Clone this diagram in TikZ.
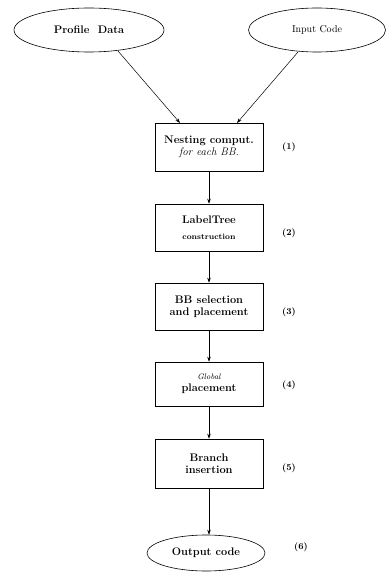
\documentclass[tikz,border=0pt]{standalone}
\usetikzlibrary{shapes.geometric,arrows.meta}
\begin{document}
\begin{tikzpicture}[x=1pt,y=-1pt,
  stage/.style={draw,line width=0.6pt,minimum width=108pt,minimum height=48pt,align=center,inner sep=2pt,font=\bfseries\fontsize{11}{13}\selectfont},
  oval/.style={draw,ellipse,line width=0.6pt,inner sep=0pt},
  flow/.style={-{Stealth[length=5pt,width=3.5pt]},line width=0.5pt},
  num/.style={font=\bfseries\small}]
\useasboundingbox (0,0) rectangle (388,572);
% input ovals
\node[oval,minimum width=150pt,minimum height=44pt,font=\bfseries\fontsize{11}{13}\selectfont] (prof) at (89,30) {Profile\ \ Data};
\node[oval,minimum width=137pt,minimum height=44pt,font=\normalsize] (inp) at (317,30) {Input Code};
% processing stages
\node[stage] (s1) at (209,147) {Nesting comput.\\[-1pt]{\normalfont\itshape for each BB.}};
\node[stage,minimum height=47pt] (s2) at (209,227.5) {LabelTree\\[3pt]{\footnotesize construction}};
\node[stage,minimum height=47pt] (s3) at (209,306.5) {BB selection\\[-1pt]and placement};
\node[stage,minimum height=44pt] (s4) at (209,384) {{\normalfont\itshape\footnotesize Global}\\[-1pt]placement};
\node[stage,minimum height=49pt] (s5) at (209,463.5) {Branch\\[-1pt]insertion};
% output oval
\node[oval,minimum width=118pt,minimum height=36pt,font=\bfseries\fontsize{11}{13}\selectfont] (out) at (206,553) {Output code};
% step numbers
\node[num] (n1) at (289,147) {(1)};
\node[num] (n2) at (289,233) {(2)};
\node[num] (n3) at (289,312) {(3)};
\node[num] (n4) at (289,385) {(4)};
\node[num] (n5) at (289,468) {(5)};
\node[num] (n6) at (301,547) {(6)};
% connectors
\coordinate (pa) at (118,51);
\coordinate (ia) at (298,52);
\coordinate (e1) at (180,123);
\coordinate (e2) at (237,123);
\draw[flow] (pa) -- (e1);
\draw[flow] (ia) -- (e2);
\draw[flow] (s1) -- (s2);
\draw[flow] (s2) -- (s3);
\draw[flow] (s3) -- (s4);
\draw[flow] (s4) -- (s5);
\draw[flow] (s5.south) -- (s5.south |- out.north);
\end{tikzpicture}
\end{document}
